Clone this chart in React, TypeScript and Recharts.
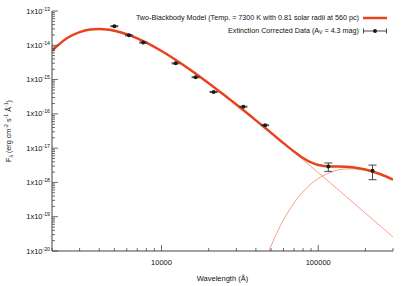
import React from 'react';
import {
  ComposedChart,
  Line,
  Scatter,
  ErrorBar,
  XAxis,
  YAxis,
} from 'recharts';

// model grid (Å) and fluxes (erg cm^-2 s^-1 Å^-1)
const modelWavelength = [
  2000, 2500, 3000, 3500, 4000, 4500, 5000, 6000, 7000, 8000, 10000, 12000,
  15000, 20000, 25000, 30000, 40000, 50000, 60000, 70000, 80000, 90000,
  100000, 120000, 150000, 170000, 200000, 250000, 300000,
];
const hotFlux = [
  6.9e-15, 1.625e-14, 2.43e-14, 2.885e-14, 3.0e-14, 2.894e-14, 2.667e-14,
  2.106e-14, 1.595e-14, 1.195e-14, 6.81e-15, 4.06e-15, 2.04e-15, 7.84e-16,
  3.59e-16, 1.865e-16, 6.46e-17, 2.79e-17, 1.392e-17, 7.7e-18, 4.6e-18,
  2.91e-18, 1.93e-18, 9.48e-19, 3.95e-19, 2.41e-19, 1.27e-19, 5.26e-20,
  2.55e-20,
];
const totalFlux = [
  6.9e-15, 1.625e-14, 2.43e-14, 2.885e-14, 3.0e-14, 2.894e-14, 2.667e-14,
  2.106e-14, 1.595e-14, 1.195e-14, 6.81e-15, 4.06e-15, 2.04e-15, 7.84e-16,
  3.59e-16, 1.865e-16, 6.46e-17, 2.79e-17, 1.4e-17, 7.95e-18, 5.14e-18,
  3.82e-18, 3.23e-18, 2.93e-18, 2.87e-18, 2.72e-18, 2.38e-18, 1.73e-18,
  1.21e-18,
];

const coldWavelength = [
  45000, 50000, 55000, 60000, 70000, 80000, 90000, 100000, 120000, 150000,
  170000, 200000, 250000, 300000,
];
const coldFlux = [
  4.0e-21, 1.4e-20, 3.73e-20, 8.1e-20, 2.51e-19, 5.38e-19, 9.06e-19, 1.3e-18,
  1.98e-18, 2.47e-18, 2.48e-18, 2.25e-18, 1.68e-18, 1.185e-18,
];

// extinction corrected photometry
const obsWavelength = [5000, 6200, 7640, 12300, 16500, 21500, 33300, 45800, 116000, 222000];
const obsFlux = [3.6e-14, 1.95e-14, 1.2e-14, 2.97e-15, 1.17e-15, 4.35e-16, 1.62e-16, 4.65e-17, 2.9e-18, 2.2e-18];
const obsError = [1.2e-15, 6e-16, 4e-16, 1e-16, 4e-17, 1.5e-17, 5e-18, 1.5e-18, 8e-19, 1.0e-18];

const xMajor = [10000, 100000];
const yMajorExp = [-20, -19, -18, -17, -16, -15, -14, -13];

const xTicks = [
  2000, 3000, 4000, 5000, 6000, 7000, 8000, 9000, 10000,
  20000, 30000, 40000, 50000, 60000, 70000, 80000, 90000, 100000,
  200000, 300000,
];
const yTicks: number[] = [];
yMajorExp.forEach((e) => {
  yTicks.push(Number(`1e${e}`));
  if (e < -13) for (let k = 2; k <= 9; k++) yTicks.push(Number(`${k}e${e}`));
});

const modelData = modelWavelength.map((x, i) => ({ x, y: totalFlux[i] }));
const hotData = modelWavelength.map((x, i) => ({ x, y: hotFlux[i] }));
const coldData = coldWavelength.map((x, i) => ({ x, y: coldFlux[i] }));
const obsData = obsWavelength.map((x, i) => ({ x, y: obsFlux[i], err: obsError[i] }));

const FONT = '"Liberation Sans", Arial, Helvetica, sans-serif';
const RED = '#e8431e';
const LIGHT_RED = '#f3866b';
const AXIS = '#444';

const isMajor = (v: number) => {
  const l = Math.log10(v);
  return Math.abs(l - Math.round(l)) < 1e-6;
};

const BottomTick = (props: any) => {
  const { x, y, payload } = props;
  const major = isMajor(payload.value);
  return (
    <g>
      <line x1={x} x2={x} y1={y} y2={y - (major ? 6 : 3)} stroke={AXIS} strokeWidth={0.8} />
      {major && xMajor.includes(payload.value) && (
        <text x={x} y={y + 14} textAnchor="middle" fontSize={7.5} fontFamily={FONT} fill="#111">
          {payload.value}
        </text>
      )}
    </g>
  );
};

const TopTick = (props: any) => {
  const { x, y, payload } = props;
  const major = isMajor(payload.value);
  return <line x1={x} x2={x} y1={y} y2={y + (major ? 6 : 3)} stroke={AXIS} strokeWidth={0.8} />;
};

const LeftTick = (props: any) => {
  const { x, y, payload } = props;
  const major = isMajor(payload.value);
  const exp = Math.round(Math.log10(payload.value));
  return (
    <g>
      <line x1={x} x2={x + (major ? 6 : 3)} y1={y} y2={y} stroke={AXIS} strokeWidth={0.8} />
      {major && (
        <text x={x - 2} y={y + 2.5} textAnchor="end" fontSize={7.5} fontFamily={FONT} fill="#111">
          1x10<tspan fontSize={5.2} dy={-3}>{exp}</tspan>
        </text>
      )}
    </g>
  );
};

const RightTick = (props: any) => {
  const { x, y, payload } = props;
  const major = isMajor(payload.value);
  return <line x1={x} x2={x - (major ? 6 : 3)} y1={y} y2={y} stroke={AXIS} strokeWidth={0.8} />;
};

const YLabel = (props: any) => {
  const { viewBox } = props;
  const cx = viewBox.x + 11;
  const cy = viewBox.y + viewBox.height / 2;
  return (
    <text
      x={cx}
      y={cy}
      transform={`rotate(-90, ${cx}, ${cy})`}
      textAnchor="middle"
      fontSize={7.2}
      fontFamily={FONT}
      fill="#111"
    >
      F<tspan fontSize={5.2} dy={2}>λ</tspan>
      <tspan dy={-2}> (erg cm</tspan>
      <tspan fontSize={5.2} dy={-3}>-2</tspan>
      <tspan dy={3}> s</tspan>
      <tspan fontSize={5.2} dy={-3}>-1</tspan>
      <tspan dy={3}> Å</tspan>
      <tspan fontSize={5.2} dy={-3}>-1</tspan>
      <tspan dy={3}>)</tspan>
    </text>
  );
};

const XLabel = (props: any) => {
  const { viewBox } = props;
  return (
    <text
      x={viewBox.x + viewBox.width / 2}
      y={viewBox.y + 30}
      textAnchor="middle"
      fontSize={7.5}
      fontFamily={FONT}
      fill="#111"
    >
      Wavelength (Å)
    </text>
  );
};

const Dot = (props: any) => {
  const { cx, cy } = props;
  return <circle cx={cx} cy={cy} r={2} fill="#1a1a1a" />;
};

export default function App() {
  return (
    <div style={{ position: 'fixed', left: 0, top: 0, width: 407, height: 286, background: '#fff' }}>
      <ComposedChart width={407} height={286} margin={{ top: 11, right: 14, bottom: 0, left: 0 }}>
        <XAxis
          xAxisId="b"
          dataKey="x"
          type="number"
          scale="log"
          domain={[2000, 300000]}
          allowDataOverflow
          ticks={xTicks}
          interval={0}
          tickSize={0}
          tickMargin={0}
          tickLine={false}
          tick={<BottomTick />}
          axisLine={{ stroke: AXIS, strokeWidth: 1 }}
          height={35}
          label={XLabel}
        />
        <XAxis
          xAxisId="t"
          orientation="top"
          dataKey="x"
          type="number"
          scale="log"
          domain={[2000, 300000]}
          allowDataOverflow
          ticks={xTicks}
          interval={0}
          tickSize={0}
          tickMargin={0}
          tickLine={false}
          tick={<TopTick />}
          axisLine={{ stroke: AXIS, strokeWidth: 1 }}
          height={0}
        />
        <YAxis
          yAxisId="l"
          dataKey="y"
          type="number"
          scale="log"
          domain={[1e-20, 1e-13]}
          allowDataOverflow
          ticks={yTicks}
          interval={0}
          tickSize={0}
          tickMargin={0}
          tickLine={false}
          tick={<LeftTick />}
          axisLine={{ stroke: AXIS, strokeWidth: 1 }}
          width={52}
          label={YLabel}
        />
        <YAxis
          yAxisId="r"
          orientation="right"
          type="number"
          scale="log"
          domain={[1e-20, 1e-13]}
          allowDataOverflow
          ticks={yTicks}
          interval={0}
          tickSize={0}
          tickMargin={0}
          tickLine={false}
          tick={<RightTick />}
          axisLine={{ stroke: AXIS, strokeWidth: 1 }}
          width={0}
        />
        <Line
          xAxisId="b"
          yAxisId="l"
          data={hotData}
          dataKey="y"
          type="monotone"
          stroke={LIGHT_RED}
          strokeWidth={0.8}
          dot={false}
          activeDot={false}
          isAnimationActive={false}
        />
        <Line
          xAxisId="b"
          yAxisId="l"
          data={coldData}
          dataKey="y"
          type="monotone"
          stroke={LIGHT_RED}
          strokeWidth={0.8}
          dot={false}
          activeDot={false}
          isAnimationActive={false}
        />
        <Line
          xAxisId="b"
          yAxisId="l"
          data={modelData}
          dataKey="y"
          type="monotone"
          stroke={RED}
          strokeWidth={2.5}
          dot={false}
          activeDot={false}
          isAnimationActive={false}
        />
        <Scatter
          xAxisId="b"
          yAxisId="l"
          data={obsData}
          dataKey="y"
          shape={<Dot />}
          isAnimationActive={false}
        >
          <ErrorBar dataKey="err" direction="y" width={4} stroke="#333" strokeWidth={0.9} />
        </Scatter>
      </ComposedChart>
      <div
        style={{
          position: 'absolute',
          top: 12,
          right: 20,
          fontFamily: FONT,
          fontSize: 7.2,
          lineHeight: '12.5px',
          color: '#111',
          textAlign: 'right',
          whiteSpace: 'nowrap',
        }}
      >
        <div style={{ display: 'flex', alignItems: 'center', justifyContent: 'flex-end' }}>
          <span>Two-Blackbody Model (Temp. = 7300 K with 0.81 solar radii at 560 pc)</span>
          <svg width={24} height={8} style={{ marginLeft: 4 }}>
            <line x1={0} x2={24} y1={4} y2={4} stroke={RED} strokeWidth={2.5} />
          </svg>
        </div>
        <div style={{ display: 'flex', alignItems: 'center', justifyContent: 'flex-end' }}>
          <span>
            Extinction Corrected Data (A<sub style={{ fontSize: 5, verticalAlign: '-1px' }}>V</sub> = 4.3 mag)
          </span>
          <svg width={24} height={8} style={{ marginLeft: 4 }}>
            <line x1={0.5} x2={23.5} y1={4} y2={4} stroke="#333" strokeWidth={0.9} />
            <line x1={0.5} x2={0.5} y1={1.5} y2={6.5} stroke="#333" strokeWidth={0.9} />
            <line x1={23.5} x2={23.5} y1={1.5} y2={6.5} stroke="#333" strokeWidth={0.9} />
            <circle cx={12} cy={4} r={2} fill="#1a1a1a" />
          </svg>
        </div>
      </div>
    </div>
  );
}
